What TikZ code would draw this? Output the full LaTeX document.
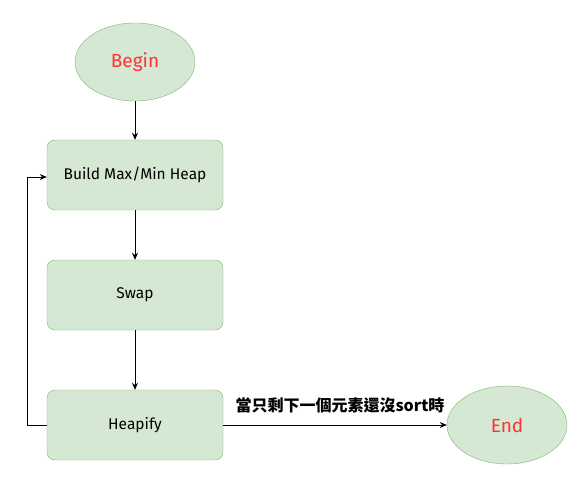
\documentclass[tikz,border=0pt]{standalone}
\usepackage{fontspec}
\setmainfont{Fira Sans}
\newfontfamily\cjkfont{Noto Sans CJK TC}
\usetikzlibrary{shapes.geometric,arrows.meta}
\definecolor{boxfill}{HTML}{D5E8D4}
\definecolor{boxline}{HTML}{82B366}
\definecolor{termtext}{HTML}{FF3333}
\begin{document}
\begin{tikzpicture}[x=1pt,y=-1pt,
  stepbox/.style={draw=boxline,fill=boxfill,rounded corners=8pt,minimum width=176pt,minimum height=70pt,font=\fontsize{15.5}{18}\selectfont,inner sep=0pt},
  term/.style={ellipse,draw=boxline,fill=boxfill,minimum width=120pt,minimum height=78pt,inner sep=0pt,text=termtext,font=\fontsize{19}{22}\selectfont},
  conn/.style={draw=black,line width=0.8pt,-{Stealth[length=7pt,width=6pt]}}
]
\useasboundingbox (0,0) rectangle (588,486);
\node[term] (begin) at (135,62) {Begin};
\node[stepbox] (build) at (135,175) {Build Max/Min Heap};
\node[stepbox] (swap) at (135,295) {Swap};
\node[stepbox] (heap) at (135,425) {Heapify};
\node[term] (end) at (507,425) {End};
\coordinate (lb) at (27,425);
\coordinate (lt) at (27,177);
\draw[conn] (begin) -- (build);
\draw[conn] (build) -- (swap);
\draw[conn] (swap) -- (heap);
\draw[conn] (heap.west) -- (lb) -- (lt) -- (build.west |- lt);
\draw[conn] (heap) -- node[above=8pt,xshift=5pt,font=\cjkfont\bfseries\fontsize{16}{18}\selectfont]{當只剩下一個元素還沒sort時} (end);
\end{tikzpicture}
\end{document}
